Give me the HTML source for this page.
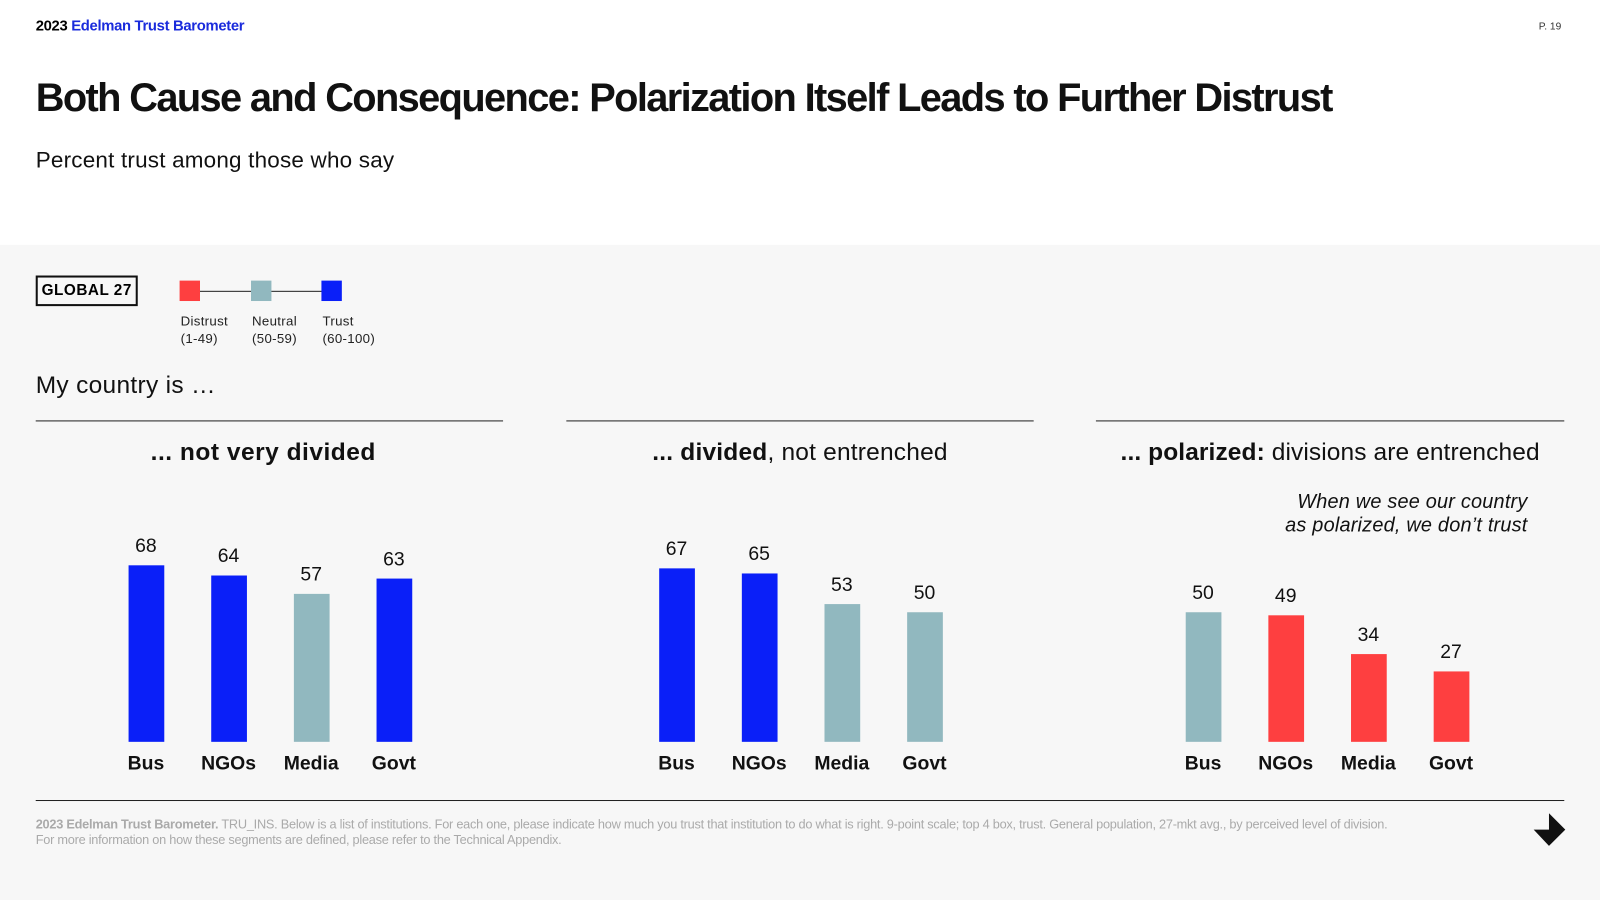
<!DOCTYPE html>
<html><head><meta charset="utf-8"><style>
html,body{margin:0;padding:0;width:1600px;height:900px;overflow:hidden;background:#fff;font-family:"Liberation Sans",Arial,sans-serif;}
#wrap{position:absolute;left:0;top:0;width:1568px;height:882px;transform:scale(1.020408);transform-origin:0 0;}
.abs{position:absolute;white-space:nowrap;}
#gray{position:absolute;left:0;top:240px;width:1568px;height:642px;background:#f7f7f7;}
.hline{position:absolute;height:1.3px;background:#222;}
.sq{position:absolute;width:20px;height:20px;top:275px;}
.leg{font-size:13px;color:#222;line-height:17px;top:306px;letter-spacing:0.3px;}
.ptitle{font-size:24px;top:430px;text-align:center;color:#111;}
.val{font-size:19px;color:#111;text-align:center;width:60px;}
.cat{font-size:19px;font-weight:bold;color:#111;text-align:center;width:80px;top:738px;}
.bar{position:absolute;width:35px;}
</style></head><body>
<div id="wrap">
<div id="gray"></div>
<div class="abs" style="left:35px;top:18px;font-size:14.5px;font-weight:bold;letter-spacing:-0.3px;">2023 <span style="color:#1a2bdc">Edelman Trust Barometer</span></div>
<div class="abs" style="left:1508px;top:21px;font-size:10px;color:#333;">P. 19</div>
<div class="abs" style="left:35px;top:75px;font-size:39px;font-weight:bold;letter-spacing:-1.6px;color:#111;">Both Cause and Consequence: Polarization Itself Leads to Further Distrust</div>
<div class="abs" style="left:35px;top:144px;font-size:22px;color:#111;letter-spacing:0.2px;">Percent trust among those who say</div>
<div class="abs" style="left:35px;top:270px;width:96px;height:26px;border:2px solid #111;font-size:15px;font-weight:bold;line-height:26px;text-align:center;letter-spacing:0.5px;">GLOBAL 27</div>
<div class="hline" style="left:196px;top:285px;width:120px;height:1px;"></div>
<div class="sq" style="left:176px;background:#fe3f40;"></div>
<div class="sq" style="left:246px;background:#91b8bf;"></div>
<div class="sq" style="left:315px;background:#0a1ff8;"></div>
<div class="abs leg" style="left:177px;">Distrust<br>(1-49)</div>
<div class="abs leg" style="left:247px;">Neutral<br>(50-59)</div>
<div class="abs leg" style="left:316px;">Trust<br>(60-100)</div>
<div class="abs" style="left:35px;top:364px;font-size:24px;color:#111;letter-spacing:0.3px;">My country is …</div>
<div class="hline" style="left:35px;top:412px;width:458px;"></div>
<div class="hline" style="left:555px;top:412px;width:458px;"></div>
<div class="hline" style="left:1074px;top:412px;width:459px;"></div>
<div class="abs ptitle" style="left:35px;width:446px;letter-spacing:0.5px;"><b>... not very divided</b></div>
<div class="abs ptitle" style="left:555px;width:458px;letter-spacing:0.2px;"><b>... divided</b>, not entrenched</div>
<div class="abs ptitle" style="left:1074px;width:459px;letter-spacing:0.1px;"><b>... polarized:</b> divisions are entrenched</div>
<div class="abs" style="left:1200px;top:481px;width:297px;text-align:right;font-size:19.5px;font-style:italic;line-height:23px;color:#111;letter-spacing:0.2px;">When we see our country<br>as polarized, we don’t trust</div>
<div id="chart"></div>
<div class="hline" style="left:35px;top:784px;width:1498px;"></div>
<div class="abs" style="left:35px;top:801px;font-size:12.5px;color:#aaa;line-height:15px;letter-spacing:-0.25px;"><b>2023 Edelman Trust Barometer.</b> TRU_INS. Below is a list of institutions. For each one, please indicate how much you trust that institution to do what is right. 9-point scale; top 4 box, trust. General population, 27-mkt avg., by perceived level of division.<br>For more information on how these segments are defined, please refer to the Technical Appendix.</div>
<svg class="abs" style="left:1500px;top:795px;" width="36" height="36" viewBox="0 0 36 36"><polygon points="18,2 34,18 18,34 3,18 18,18" fill="#111"/></svg>
</div>
<script>
const categories=["Bus","NGOs","Media","Govt"];
const panelNames=["not-very-divided","divided","polarized"];
const notDivided=[68,64,57,63];
const divided=[67,65,53,50];
const polarized=[50,49,34,27];
const series=[notDivided,divided,polarized];
const panelX=[143,663,1179];
const step=81, base=727, pxPerUnit=2.54;
function y(v){return base-v*pxPerUnit;}
function color(v){return v>=60?"#0a1ff8":(v>=50?"#91b8bf":"#fe3f40");}
const chart=document.getElementById('chart');
series.forEach((vals,p)=>{
  vals.forEach((v,i)=>{
    const cx=panelX[p]+i*step;
    const b=document.createElement('div');
    b.className='bar';
    
    
    b.style.left=(cx-17.5)+'px';b.style.top=y(v)+'px';b.style.height=(base-y(v))+'px';b.style.background=color(v);
    chart.appendChild(b);
    const t=document.createElement('div');
    t.className='abs val';
    
    
    t.style.left=(cx-30)+'px';t.style.top=(y(v)-29)+'px';t.textContent=v;
    chart.appendChild(t);
    const c=document.createElement('div');
    c.className='abs cat';
    
    
    c.style.left=(cx-40)+'px';c.textContent=categories[i];
    chart.appendChild(c);
  });
});
</script>
</body></html>
